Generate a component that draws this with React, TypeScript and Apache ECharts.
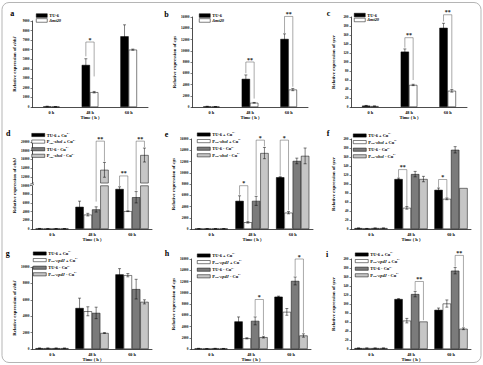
import React, { useEffect, useRef } from 'react';
import * as echarts from 'echarts';

// Sampling times shared by every panel
const timeLabels = ['0 h', '48 h', '60 h'];

// Panel a – chbJ, wild type vs. deletion mutant
const aTU6 = [60, 4400, 7400];
const aTU6Err = [30, 650, 1200];
const aMut = [30, 1550, 6000];
const aMutErr = [10, 80, 60];

// Panel b – cgs
const bTU6 = [100, 5000, 12100];
const bTU6Err = [40, 700, 900];
const bMut = [60, 750, 3100];
const bMutErr = [20, 60, 200];

// Panel c – sycr
const cTU6 = [3, 123, 176];
const cTU6Err = [0.5, 6, 10];
const cMut = [2, 49, 36];
const cMutErr = [0.3, 1.5, 3];

// Panel d – chbJ, shol over-expression with / without copper
const dTU6Cu = [100, 5100, 9200];
const dTU6CuErr = [30, 1300, 500];
const dSholCu = [60, 3300, 4100];
const dSholCuErr = [20, 300, 100];
const dTU6 = [80, 4500, 7300];
const dTU6Err = [30, 600, 1300];
const dShol = [80, 13600, 17000];
const dSholErr = [30, 1700, 1600];

// Panel e – cgs
const eTU6Cu = [60, 5000, 9200];
const eTU6CuErr = [20, 900, 100];
const eSholCu = [60, 1200, 2900];
const eSholCuErr = [20, 150, 200];
const eTU6 = [60, 5000, 12100];
const eTU6Err = [20, 800, 500];
const eShol = [60, 13500, 13000];
const eSholErr = [20, 1000, 1400];

// Panel f – sycr
const fTU6Cu = [2, 111, 87];
const fTU6CuErr = [0.3, 2, 4];
const fSholCu = [1, 47, 67];
const fSholCuErr = [0.3, 3, 2];
const fTU6 = [2, 122, 176];
const fTU6Err = [0.3, 6, 7];
const fShol = [2, 111, 91];
const fSholErr = [0.3, 6, 0];

// Panel g – chbJ, cpdJ over-expression
const gTU6Cu = [100, 5000, 9100];
const gTU6CuErr = [30, 1200, 700];
const gCpdCu = [100, 4600, 9000];
const gCpdCuErr = [30, 550, 200];
const gTU6 = [100, 4400, 7300];
const gTU6Err = [30, 700, 1200];
const gCpd = [100, 1950, 5750];
const gCpdErr = [20, 50, 250];

// Panel h – cgs
const hTU6Cu = [100, 4900, 9300];
const hTU6CuErr = [30, 800, 100];
const hCpdCu = [60, 1900, 6600];
const hCpdCuErr = [20, 100, 600];
const hTU6 = [100, 5000, 12100];
const hTU6Err = [30, 700, 700];
const hCpd = [80, 2100, 2400];
const hCpdErr = [20, 150, 300];

// Panel i – sycr
const iTU6Cu = [2, 111, 87];
const iTU6CuErr = [0.3, 1, 4];
const iCpdCu = [2, 63, 101];
const iCpdCuErr = [0.3, 5, 8];
const iTU6 = [2, 122, 174];
const iTU6Err = [0.3, 6, 7];
const iCpd = [2, 61, 45];
const iCpdErr = [0.3, 0, 2];

// Significance brackets: category, bar slots joined, bracket height and leg ends (data units)
type Bracket = { cat: number; from: number; to: number; top: number; legFrom: number; legTo: number; mark: string };
const aBrackets: Bracket[] = [{ cat: 1, from: 0, to: 1, top: 6800, legFrom: 5300, legTo: 3200, mark: '*' }];
const bBrackets: Bracket[] = [
  { cat: 1, from: 0, to: 1, top: 8000, legFrom: 6000, legTo: 1500, mark: '**' },
  { cat: 2, from: 0, to: 1, top: 16100, legFrom: 13100, legTo: 3600, mark: '**' },
];
const cBrackets: Bracket[] = [
  { cat: 1, from: 0, to: 1, top: 154, legFrom: 132, legTo: 60, mark: '**' },
  { cat: 2, from: 0, to: 1, top: 205, legFrom: 190, legTo: 41, mark: '**' },
];
const dBrackets: Bracket[] = [
  { cat: 1, from: 2, to: 3, top: 20200, legFrom: 6300, legTo: 15500, mark: '**' },
  { cat: 2, from: 0, to: 1, top: 12200, legFrom: 9900, legTo: 4400, mark: '**' },
  { cat: 2, from: 2, to: 3, top: 20200, legFrom: 8800, legTo: 18800, mark: '**' },
];
const eBrackets: Bracket[] = [
  { cat: 1, from: 0, to: 1, top: 7700, legFrom: 6100, legTo: 1500, mark: '*' },
  { cat: 1, from: 2, to: 3, top: 15800, legFrom: 6000, legTo: 14700, mark: '*' },
  { cat: 2, from: 0, to: 1, top: 15800, legFrom: 9500, legTo: 3300, mark: '*' },
];
const fBrackets: Bracket[] = [
  { cat: 1, from: 0, to: 1, top: 132, legFrom: 114, legTo: 51, mark: '**' },
  { cat: 2, from: 0, to: 1, top: 110, legFrom: 92, legTo: 70, mark: '*' },
];
const gBrackets: Bracket[] = [];
const hBrackets: Bracket[] = [
  { cat: 1, from: 2, to: 3, top: 8800, legFrom: 5900, legTo: 2500, mark: '*' },
  { cat: 2, from: 2, to: 3, top: 16000, legFrom: 13000, legTo: 2900, mark: '*' },
];
const iBrackets: Bracket[] = [
  { cat: 1, from: 2, to: 3, top: 150, legFrom: 130, legTo: 64, mark: '**' },
  { cat: 2, from: 2, to: 3, top: 208, legFrom: 183, legTo: 49, mark: '**' },
];

// Series names per figure row
const mutNames = ['TU-6', 'Δmt20'];
const sholNames = ['TU-6 + Cu', 'P-shol + Cu', 'TU-6 - Cu', 'P-shol - Cu'];
const cpdNames = ['TU-6 + Cu', 'P-cpdJ + Cu', 'TU-6 - Cu', 'P-cpdJ - Cu'];

// Axis break on the chbJ over-expression panel
const BREAK_LO = 10000;
const BREAK_HI = 10500;

const FONT = '"Liberation Serif", "Times New Roman", serif';
const BW = 8.3;
const CAP = 3;
const fills = ['#000000', '#ffffff', '#7b7b7b', '#c6c6c6'];

const legendLabels: Record<string, string> = {
  'TU-6': '{n|TU-6}',
  'Δmt20': '{i|Δmt20}',
  'TU-6 + Cu': '{n|TU-6 + Cu}{sup|2+}',
  'TU-6 - Cu': '{n|TU-6 - Cu}{sup|2+}',
  'P-shol + Cu': '{n|P}{sub|rus}{n|-}{i|shol}{n| + Cu}{sup|2+}',
  'P-shol - Cu': '{n|P}{sub|rus}{n|-}{i|shol}{n| - Cu}{sup|2+}',
  'P-cpdJ + Cu': '{n|P}{sub|rus}{n|-}{i|cpdJ}{n| + Cu}{sup|2+}',
  'P-cpdJ - Cu': '{n|P}{sub|rus}{n|-}{i|cpdJ}{n| - Cu}{sup|2+}',
};

type Panel = {
  letter: string;
  gene: string;
  yMax: number;
  yStep: number;
  names: string[];
  values: number[][];
  errors: number[][];
  brackets: Bracket[];
  broken?: boolean;
};

const panels: Panel[] = [
  { letter: 'a', gene: 'chbJ', yMax: 9000, yStep: 1000, names: mutNames, values: [aTU6, aMut], errors: [aTU6Err, aMutErr], brackets: aBrackets },
  { letter: 'b', gene: 'cgs', yMax: 16000, yStep: 2000, names: mutNames, values: [bTU6, bMut], errors: [bTU6Err, bMutErr], brackets: bBrackets },
  { letter: 'c', gene: 'sycr', yMax: 200, yStep: 20, names: mutNames, values: [cTU6, cMut], errors: [cTU6Err, cMutErr], brackets: cBrackets },
  { letter: 'd', gene: 'chbJ', yMax: 20000, yStep: 2000, names: sholNames, values: [dTU6Cu, dSholCu, dTU6, dShol], errors: [dTU6CuErr, dSholCuErr, dTU6Err, dSholErr], brackets: dBrackets, broken: true },
  { letter: 'e', gene: 'cgs', yMax: 16000, yStep: 2000, names: sholNames, values: [eTU6Cu, eSholCu, eTU6, eShol], errors: [eTU6CuErr, eSholCuErr, eTU6Err, eSholErr], brackets: eBrackets },
  { letter: 'f', gene: 'sycr', yMax: 200, yStep: 20, names: sholNames, values: [fTU6Cu, fSholCu, fTU6, fShol], errors: [fTU6CuErr, fSholCuErr, fTU6Err, fSholErr], brackets: fBrackets },
  { letter: 'g', gene: 'chbJ', yMax: 10000, yStep: 2000, names: cpdNames, values: [gTU6Cu, gCpdCu, gTU6, gCpd], errors: [gTU6CuErr, gCpdCuErr, gTU6Err, gCpdErr], brackets: gBrackets },
  { letter: 'h', gene: 'cgs', yMax: 16000, yStep: 2000, names: cpdNames, values: [hTU6Cu, hCpdCu, hTU6, hCpd], errors: [hTU6CuErr, hCpdCuErr, hTU6Err, hCpdErr], brackets: hBrackets },
  { letter: 'i', gene: 'sycr', yMax: 200, yStep: 20, names: cpdNames, values: [iTU6Cu, iCpdCu, iTU6, iCpd], errors: [iTU6CuErr, iCpdCuErr, iTU6Err, iCpdErr], brackets: iBrackets },
];

// Plot boxes, legend anchors and panel-letter anchors (pixels)
const boxes = [
  { left: 32, top: 21, width: 116, height: 86 },
  { left: 192, top: 17, width: 116, height: 90 },
  { left: 351, top: 17, width: 116, height: 90 },
  { left: 32, top: 142, width: 120, height: 87 },
  { left: 191, top: 139, width: 122, height: 90 },
  { left: 351, top: 139, width: 120, height: 90 },
  { left: 32, top: 267, width: 120, height: 82 },
  { left: 191, top: 259, width: 120, height: 90 },
  { left: 351, top: 259, width: 120, height: 90 },
];
const legendAt = [
  { left: 36, top: 13.5 }, { left: 199, top: 13.5 }, { left: 354, top: 13 },
  { left: 31.5, top: 132 }, { left: 197, top: 131.5 }, { left: 353, top: 132.5 },
  { left: 33, top: 250.5 }, { left: 197, top: 252.5 }, { left: 355, top: 251.5 },
];
const letterAt = [
  [12.2, 13], [166.5, 14], [328.5, 13.3],
  [8.3, 133.3], [166.5, 134], [328, 133.3],
  [7.7, 253.3], [167, 253.3], [327, 254],
];

const slotX = (center: number, slot: number, n: number) => center + (slot - (n - 1) / 2) * BW;

function buildOption() {
  const grid: any[] = [];
  const xAxis: any[] = [];
  const yAxis: any[] = [];
  const legend: any[] = [];
  const series: any[] = [];
  const graphic: any[] = [];

  panels.forEach((p, pi) => {
    const n = p.values.length;
    const two = n === 2;
    grid.push({ ...boxes[pi], containLabel: false, outerBoundsMode: 'none' });
    xAxis.push({
      type: 'category',
      gridIndex: pi,
      data: timeLabels,
      axisLine: { lineStyle: { color: '#000', width: 0.7 } },
      axisTick: { alignWithLabel: true, length: 1.5, lineStyle: { color: '#000', width: 0.5 } },
      axisLabel: { color: '#000', fontSize: 4.3, fontWeight: 'bold', fontFamily: FONT, margin: 3 },
      name: 'Time ( h )',
      nameLocation: 'middle',
      nameGap: 8,
      nameTextStyle: { color: '#000', fontSize: 4.6, fontWeight: 'bold', fontFamily: FONT },
    });
    yAxis.push({
      type: 'value',
      gridIndex: pi,
      min: 0,
      max: p.yMax,
      interval: p.yStep,
      splitLine: { show: false },
      axisLine: { show: true, lineStyle: { color: '#000', width: 0.7 } },
      axisTick: { show: true, length: 1.5, lineStyle: { color: '#000', width: 0.5 } },
      axisLabel: {
        color: '#000', fontSize: 3.4, fontWeight: 'bold', fontFamily: FONT, margin: 2.5,
        formatter: (v: number) => String(v),
      },
      name: 'Relative expression of {i|' + p.gene + '}',
      nameLocation: 'middle',
      nameRotate: 90,
      nameGap: 15,
      nameTextStyle: {
        color: '#000', fontSize: 4.8, fontWeight: 'bold', fontFamily: FONT,
        rich: { i: { fontSize: 4.8, fontWeight: 'bold', fontStyle: 'italic', fontFamily: FONT, color: '#000' } },
      },
    });

    const rowH = two ? 5 : 6;
    legend.push({
      orient: 'vertical',
      left: legendAt[pi].left,
      top: legendAt[pi].top,
      padding: 0,
      itemGap: two ? 0.8 : 1.6,
      itemWidth: two ? 11 : 13,
      itemHeight: two ? 3.6 : 3.2,
      icon: 'rect',
      selectedMode: false,
      data: p.names.map((name, k) => ({
        name,
        itemStyle: { color: fills[k], borderColor: '#000', borderWidth: 0.5 },
      })),
      formatter: (name: string) => legendLabels[name] || name,
      textStyle: {
        padding: [0, 0, 0, -3],
        rich: {
          n: { fontSize: 4.4, fontWeight: 'bold', fontFamily: FONT, color: '#000', lineHeight: rowH },
          i: { fontSize: 4.4, fontWeight: 'bold', fontStyle: 'italic', fontFamily: FONT, color: '#000', lineHeight: rowH },
          sub: { fontSize: 2.8, fontWeight: 'bold', fontFamily: FONT, color: '#000', lineHeight: rowH, verticalAlign: 'bottom' },
          sup: { fontSize: 2.8, fontWeight: 'bold', fontFamily: FONT, color: '#000', lineHeight: rowH, verticalAlign: 'top' },
        },
      },
    });

    p.values.forEach((vals, k) => {
      const base = {
        type: 'bar',
        name: p.names[k],
        xAxisIndex: pi,
        yAxisIndex: pi,
        barWidth: BW,
        barGap: '0%',
        itemStyle: { color: fills[k], borderColor: '#000', borderWidth: 0.5 },
        emphasis: { disabled: true },
      };
      if (p.broken && k === n - 1) {
        // split the tall bars so that a white band marks the axis break
        const stack = 'brk' + pi;
        series.push({ ...base, stack, data: vals.map((v) => Math.min(v, BREAK_LO)) });
        series.push({
          ...base, name: 'gap' + pi, stack,
          itemStyle: { color: 'rgba(0,0,0,0)', borderWidth: 0 },
          data: vals.map((v) => (v > BREAK_HI ? BREAK_HI - BREAK_LO : '-')),
        });
        series.push({ ...base, name: 'top' + pi, stack, data: vals.map((v) => (v > BREAK_HI ? v - BREAK_HI : '-')) });
      } else {
        series.push({ ...base, data: vals });
      }
    });

    // error bars
    const errData: number[][] = [];
    p.values.forEach((vals, k) => vals.forEach((v, i) => errData.push([i, v, p.errors[k][i], k])));
    series.push({
      type: 'custom',
      xAxisIndex: pi,
      yAxisIndex: pi,
      z: 4,
      clip: false,
      silent: true,
      encode: { x: 0, y: 1 },
      data: errData,
      renderItem: (_params: any, api: any) => {
        const cat = api.value(0);
        const mean = api.value(1);
        const err = api.value(2);
        const slot = api.value(3);
        if (!err) return null;
        const c = api.coord([cat, mean]);
        const x = slotX(c[0], slot, n);
        const yHi = api.coord([cat, mean + err])[1];
        const yLo = api.coord([cat, Math.max(mean - err, 0)])[1];
        const st = { stroke: '#000', lineWidth: 0.5, fill: null };
        const h = CAP / 2;
        return {
          type: 'group',
          children: [
            { type: 'line', shape: { x1: x, y1: yHi, x2: x, y2: yLo }, style: st },
            { type: 'line', shape: { x1: x - h, y1: yHi, x2: x + h, y2: yHi }, style: st },
            { type: 'line', shape: { x1: x - h, y1: yLo, x2: x + h, y2: yLo }, style: st },
          ],
        };
      },
    });

    // significance brackets
    if (p.brackets.length) {
      const list = p.brackets;
      series.push({
        type: 'custom',
        xAxisIndex: pi,
        yAxisIndex: pi,
        z: 5,
        clip: false,
        silent: true,
        encode: { x: 0, y: 1 },
        data: list.map((b) => [b.cat, b.top]),
        renderItem: (params: any, api: any) => {
          const b = list[params.dataIndex];
          const c = api.coord([b.cat, b.top]);
          const xA = slotX(c[0], b.from, n);
          const xB = slotX(c[0], b.to, n);
          const yA = api.coord([b.cat, b.legFrom])[1];
          const yB = api.coord([b.cat, b.legTo])[1];
          return {
            type: 'group',
            children: [
              {
                type: 'polyline',
                shape: { points: [[xA, yA], [xA, c[1]], [xB, c[1]], [xB, yB]] },
                style: { stroke: '#555', lineWidth: 0.5, fill: null },
              },
              {
                type: 'text',
                x: (xA + xB) / 2,
                y: c[1] + 0.5,
                style: {
                  text: b.mark, fontSize: 6, fontWeight: 'bold', fontFamily: FONT,
                  fill: '#222', align: 'center', verticalAlign: 'bottom',
                },
              },
            ],
          };
        },
      });
    }

    // break mark across the y axis
    if (p.broken) {
      series.push({
        type: 'custom',
        xAxisIndex: pi,
        yAxisIndex: pi,
        z: 6,
        clip: false,
        silent: true,
        encode: { x: 0, y: 1 },
        data: [[0, (BREAK_LO + BREAK_HI) / 2]],
        renderItem: (params: any, api: any) => {
          const y = api.coord([0, (BREAK_LO + BREAK_HI) / 2])[1];
          const x = params.coordSys.x;
          const st = { stroke: '#000', lineWidth: 0.5, fill: null };
          return {
            type: 'group',
            children: [
              { type: 'rect', shape: { x: x - 1, y: y - 1, width: 2, height: 2 }, style: { fill: '#fff' } },
              { type: 'line', shape: { x1: x - 2, y1: y - 0.2, x2: x + 2, y2: y - 1.6 }, style: st },
              { type: 'line', shape: { x1: x - 2, y1: y + 1.4, x2: x + 2, y2: y }, style: st },
            ],
          };
        },
      });
    }

    graphic.push({
      type: 'text',
      x: letterAt[pi][0],
      y: letterAt[pi][1],
      style: {
        text: p.letter, fontSize: 8, fontWeight: 'bold', fontFamily: FONT,
        fill: '#000', align: 'center', verticalAlign: 'middle',
      },
    });
  });

  // rounded frame around the figure
  graphic.push({
    type: 'rect',
    z: -1,
    shape: { x: 2, y: 2.5, width: 479, height: 360, r: 7 },
    style: { fill: 'none', stroke: '#b5b5b5', lineWidth: 1 },
  });

  return {
    animation: false,
    backgroundColor: '#ffffff',
    textStyle: { fontFamily: FONT },
    grid,
    xAxis,
    yAxis,
    legend,
    series,
    graphic,
  };
}

export default function App() {
  const ref = useRef<HTMLDivElement>(null);
  useEffect(() => {
    document.body.style.margin = '0';
    if (!ref.current) return;
    const chart = echarts.init(ref.current, undefined, { renderer: 'svg' });
    chart.setOption(buildOption() as any);
    return () => chart.dispose();
  }, []);
  return <div ref={ref} style={{ width: 483, height: 365 }} />;
}
